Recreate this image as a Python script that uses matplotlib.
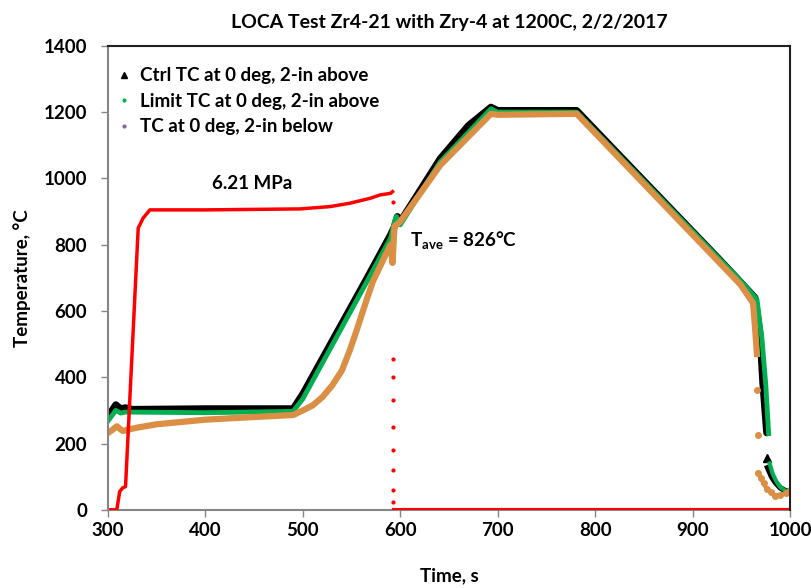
import matplotlib
matplotlib.use("Agg")
import matplotlib.pyplot as plt
from matplotlib.lines import Line2D

plt.rcParams['font.family'] = ['Lato', 'DejaVu Sans']
plt.rcParams['mathtext.fontset'] = 'custom'
plt.rcParams['mathtext.rm'] = 'Lato'
plt.rcParams['mathtext.bf'] = 'Lato:bold'

# ---- data ----
# Ctrl TC at 0 deg, 2-in above (black)
ctrl_t = [300, 303, 308, 313, 318, 325, 400, 490, 500, 566, 590, 594, 597, 600,
          641, 670, 693, 700, 781, 850, 928, 949, 964, 969, 972, 976]
ctrl_T = [282, 295, 317, 305, 308, 303, 305, 305, 350, 700, 830, 855, 885, 870,
          1060, 1160, 1215, 1205, 1205, 993, 754, 688, 640, 534, 383, 232]
ctrl_tail_t = [977, 981, 985, 990, 995, 1000]
ctrl_tail_T = [127, 100, 82, 66, 58, 54]
ctrl_gap_t = [976]
ctrl_gap_T = [157]

# Limit TC at 0 deg, 2-in above (green)
limit_t = [300, 303, 308, 313, 318, 400, 490, 500, 566, 590, 594, 596, 600,
           641, 693, 700, 781, 949, 966, 971, 975, 978]
limit_T = [268, 280, 300, 292, 295, 293, 297, 335, 690, 820, 870, 885, 860,
           1050, 1210, 1200, 1200, 692, 635, 520, 380, 230]
limit_tail_t = [979, 982, 986, 990, 995, 1000]
limit_tail_T = [140, 110, 85, 68, 58, 54]

# TC at 0 deg, 2-in below (orange)
below_t = [300, 304, 309, 315, 330, 350, 400, 450, 490, 500, 510, 520, 530,
           540, 548, 555, 565, 572, 585, 590, 592, 594, 600, 641, 693, 700,
           781, 949, 962, 964, 966]
below_T = [232, 240, 252, 238, 248, 258, 272, 280, 286, 300, 315, 340, 375,
           420, 480, 540, 630, 690, 770, 800, 745, 855, 870, 1040, 1195, 1192,
           1195, 680, 624, 552, 470]
below_scatter_t = [966, 967]
below_scatter_T = [362, 226]
below_tail_t = [967, 970, 973, 976, 980, 985, 990, 996, 1000]
below_tail_T = [112, 95, 80, 62, 55, 42, 45, 50, 60]

# pressure trace (red), drawn on the temperature scale
red_t = [300, 309, 312, 315, 318, 331, 336, 343, 400, 497, 528, 548, 569,
         579, 590, 592]
red_T = [0, 0, 55, 66, 70, 850, 880, 905, 905, 908, 915, 925, 940, 950,
         955, 960]
red_drop_t = [593, 593, 593, 593, 593, 593, 593, 593, 593]
red_drop_T = [930, 455, 400, 330, 250, 180, 120, 60, 25]
red_zero_t = [594, 1000]
red_zero_T = [0, 0]

BLACK = "black"
GREEN = "#00B050"
ORANGE = "#DA8F45"
RED = "#FF0000"

fig = plt.figure(figsize=(8.12, 5.88), dpi=100)
ax = fig.add_axes([0.133, 0.133, 0.840, 0.789])

# black underneath, then green, then orange, red on top
ax.plot(ctrl_t, ctrl_T, color=BLACK, lw=5, solid_capstyle="round")
ax.plot(ctrl_tail_t, ctrl_tail_T, color=BLACK, lw=4)
ax.plot(ctrl_gap_t, ctrl_gap_T, "^", color=BLACK, ms=6)
ax.plot(limit_t, limit_T, color=GREEN, lw=3.5)
ax.plot(limit_tail_t, limit_tail_T, color=GREEN, lw=3)
ax.plot(below_t, below_T, color=ORANGE, lw=4.5)
ax.plot(below_scatter_t, below_scatter_T, "o", color=ORANGE, ms=4)
ax.plot(below_tail_t, below_tail_T, "o-", color=ORANGE, lw=3, ms=4)
ax.plot(red_t, red_T, color=RED, lw=2.5)
ax.plot(red_drop_t, red_drop_T, "o", color=RED, ms=2)
ax.plot(red_zero_t, red_zero_T, color=RED, lw=3)

ax.set_xlim(300, 1000)
ax.set_ylim(0, 1400)
ax.set_xticks(range(300, 1001, 100))
ax.set_yticks(range(0, 1401, 200))

for side in ["left", "bottom"]:
    ax.spines[side].set_color("#868686")
    ax.spines[side].set_linewidth(1.5)
for side in ["top", "right"]:
    ax.spines[side].set_color("#202020")
    ax.spines[side].set_linewidth(1.5)
ax.spines["bottom"].set_zorder(0)
ax.tick_params(axis="both", direction="out", length=5, width=1,
               color="#868686", labelsize=13.5, pad=4)
ax.tick_params(axis="y", pad=10)
for lab in ax.get_xticklabels() + ax.get_yticklabels():
    lab.set_fontweight("bold")

ax.set_title("LOCA Test Zr4-21 with Zry-4 at 1200C, 2/2/2017",
             fontsize=14, fontweight="bold", pad=13)
ax.set_xlabel("Time, s", fontsize=13.5, fontweight="bold", labelpad=20)
ax.set_ylabel("Temperature, °C", fontsize=13.5, fontweight="bold", labelpad=9)

ax.text(448, 985, "6.21 MPa", fontsize=13.5, fontweight="bold",
        ha="center", va="center")
ax.text(610, 815, r"$\mathbf{T_{ave}}$ = 826°C", fontsize=13.5,
        fontweight="bold", ha="left", va="center")

handles = [
    Line2D([], [], ls="none", marker="^", color=BLACK, ms=5),
    Line2D([], [], ls="none", marker="o", color=GREEN, ms=2),
    Line2D([], [], ls="none", marker="o", color="#8064A2", ms=2),
]
labels = ["Ctrl TC at 0 deg, 2-in above", "Limit TC at 0 deg, 2-in above",
          "TC at 0 deg, 2-in below"]
ax.legend(handles, labels, loc="upper left", bbox_to_anchor=(-0.015, 0.99),
          frameon=False, prop={"weight": "bold", "size": 13.5},
          handlelength=1.0, handletextpad=0.35, labelspacing=0.45)

fig.savefig("out.png", dpi=100)
